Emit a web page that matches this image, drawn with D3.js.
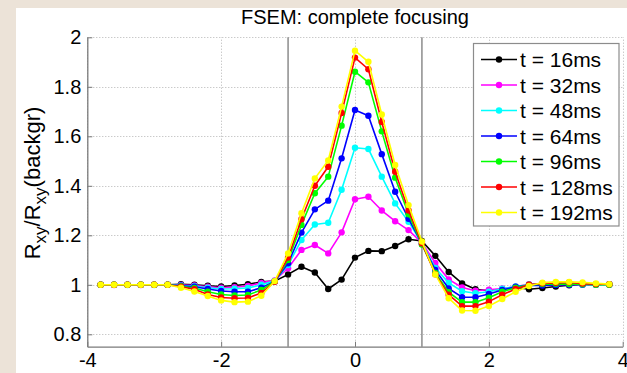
<!DOCTYPE html>
<html>
<head>
<meta charset="utf-8">
<script src="https://cdn.jsdelivr.net/npm/d3@7"></script>
<style>
  html, body { margin: 0; padding: 0; background: #ece3d8; }
  svg { display: block; font-family: "Liberation Sans", Arial, Helvetica, sans-serif; }
</style>
</head>
<body>
<svg id="chart" width="627" height="373"></svg>
<script>
// Probe position (x) at which every curve is sampled
const positions = [-3.8, -3.6, -3.4, -3.2, -3.0, -2.8, -2.6, -2.4, -2.2, -2.0,
                   -1.8, -1.6, -1.4, -1.2, -1.0, -0.8, -0.6, -0.4, -0.2, 0.0,
                    0.2,  0.4,  0.6,  0.8,  1.0,  1.2,  1.4,  1.6,  1.8,  2.0,
                    2.2,  2.4,  2.6,  2.8,  3.0,  3.2,  3.4,  3.6,  3.8];

// Normalised Hall resistance R_xy / R_xy(backgr) for each time step
const t16ms = [1.000, 1.000, 1.000, 1.000, 1.000, 1.000, 1.002, 1.000, 0.996, 0.993,
               0.997, 1.002, 1.012, 1.015, 1.042, 1.073, 1.050, 0.983, 1.021, 1.110,
               1.137, 1.136, 1.157, 1.184, 1.177, 1.117, 1.052, 1.006, 0.982, 0.976,
               0.982, 0.990, 0.982, 0.987, 0.993, 0.998, 1.001, 1.001, 1.002];
const t32ms = [1.000, 0.999, 1.000, 0.999, 1.000, 1.000, 0.999, 0.997, 0.992, 0.988,
               0.990, 0.995, 1.008, 1.018, 1.067, 1.141, 1.161, 1.127, 1.212, 1.346,
               1.356, 1.300, 1.257, 1.221, 1.170, 1.088, 1.022, 0.989, 0.976, 0.980,
               0.985, 0.992, 1.003, 1.003, 1.000, 1.002, 1.000, 1.000, 1.000];
const t48ms = [1.000, 1.000, 0.999, 1.000, 0.999, 1.000, 0.997, 0.994, 0.988, 0.983,
               0.984, 0.987, 1.000, 1.016, 1.080, 1.181, 1.244, 1.251, 1.384, 1.554,
               1.549, 1.437, 1.329, 1.255, 1.168, 1.068, 1.008, 0.974, 0.966, 0.972,
               0.984, 0.993, 1.000, 1.003, 1.002, 1.004, 1.000, 1.000, 1.000];
const t64ms = [1.000, 1.000, 1.000, 1.000, 1.000, 1.000, 0.996, 0.992, 0.983, 0.975,
               0.972, 0.972, 0.988, 1.014, 1.087, 1.211, 1.305, 1.340, 1.511, 1.706,
               1.683, 1.528, 1.376, 1.267, 1.165, 1.060, 0.985, 0.950, 0.950, 0.963,
               0.979, 0.992, 0.998, 0.997, 0.999, 1.000, 1.001, 1.001, 1.002];
const t96ms = [1.000, 1.000, 1.000, 1.000, 1.000, 1.000, 0.994, 0.987, 0.972, 0.961,
               0.957, 0.959, 0.979, 1.014, 1.100, 1.242, 1.370, 1.437, 1.643, 1.861,
               1.818, 1.620, 1.433, 1.285, 1.163, 1.048, 0.970, 0.930, 0.930, 0.948,
               0.972, 0.988, 1.000, 1.003, 1.004, 1.003, 1.002, 1.000, 1.000];
const t128ms = [1.000, 1.000, 1.000, 1.000, 1.000, 1.000, 0.992, 0.982, 0.961, 0.949,
                0.946, 0.947, 0.967, 1.012, 1.110, 1.265, 1.400, 1.477, 1.694, 1.918,
                1.871, 1.658, 1.457, 1.300, 1.168, 1.043, 0.960, 0.914, 0.914, 0.932,
                0.960, 0.983, 1.000, 1.006, 1.008, 1.010, 1.005, 1.003, 1.002];
const t192ms = [1.000, 1.000, 1.000, 1.000, 1.000, 1.000, 0.988, 0.973, 0.955, 0.937,
                0.930, 0.932, 0.956, 1.015, 1.127, 1.289, 1.430, 1.502, 1.720, 1.946,
                1.901, 1.688, 1.484, 1.322, 1.175, 1.042, 0.946, 0.896, 0.895, 0.914,
                0.943, 0.972, 0.995, 1.009, 1.012, 1.012, 1.010, 1.006, 1.003];

const seriesLabels = ["t = 16ms", "t = 32ms", "t = 48ms", "t = 64ms", "t = 96ms", "t = 128ms", "t = 192ms"];
const seriesValues = [t16ms, t32ms, t48ms, t64ms, t96ms, t128ms, t192ms];
const seriesColors = ["#000000", "#ff00ff", "#00ffff", "#0000ff", "#00ff00", "#ff0000", "#ffff00"];

const xTicks = [-4, -2, 0, 2, 4];
const yTicks = [0.8, 1, 1.2, 1.4, 1.6, 1.8, 2];
const edgeLines = [-1, 1];          // boundaries of the focusing region
const titleText = "FSEM: complete focusing";

const svg = d3.select("#chart");
const W = 627, H = 373;

// page backdrop and white figure sheet
svg.append("rect").attr("width", W).attr("height", H).attr("fill", "#ece3d8");
svg.append("rect").attr("x", 16).attr("y", 8).attr("width", W - 16).attr("height", H - 8).attr("fill", "#ffffff");

const plot = { left: 87.3, right: 622.7, top: 37.3, bottom: 346.7 };
const x = d3.scaleLinear().domain([-4, 4]).range([plot.left, plot.right]);
const y = d3.scaleLinear().domain([0.75, 2]).range([plot.bottom, plot.top]);

// dotted grid
const grid = svg.append("g").attr("stroke", "#b4b4b4").attr("stroke-width", 1)
  .attr("stroke-dasharray", "1,2").attr("fill", "none");
grid.selectAll("line.gy").data(yTicks).join("line").attr("class", "gy")
  .attr("x1", x(-4)).attr("x2", x(4))
  .attr("y1", d => Math.round(y(d)) + 0.5).attr("y2", d => Math.round(y(d)) + 0.5);
grid.selectAll("line.gx").data(xTicks).join("line").attr("class", "gx")
  .attr("x1", d => Math.round(x(d)) + 0.5).attr("x2", d => Math.round(x(d)) + 0.5)
  .attr("y1", y(0.75)).attr("y2", y(2));

// solid markers at x = ±1
svg.append("g").selectAll("line").data(edgeLines).join("line")
  .attr("x1", d => x(d)).attr("x2", d => x(d))
  .attr("y1", y(0.75)).attr("y2", y(2))
  .attr("stroke", "#8c8c8c").attr("stroke-width", 1.5);

// axes with inward ticks
const axisColor = "#7a7a7a";
const xAxis = svg.append("g").attr("transform", `translate(0,${plot.bottom})`)
  .call(d3.axisBottom(x).tickValues(xTicks).tickFormat(d => String(d))
    .tickSize(-5).tickSizeOuter(0).tickPadding(6));
const yAxis = svg.append("g").attr("transform", `translate(${plot.left},0)`)
  .call(d3.axisLeft(y).tickValues(yTicks).tickFormat(d => String(d))
    .tickSize(-5).tickSizeOuter(0).tickPadding(6));
[xAxis, yAxis].forEach(g => {
  g.select(".domain").attr("stroke", axisColor).attr("stroke-width", 1.3);
  g.selectAll(".tick line").attr("stroke", axisColor);
  g.selectAll(".tick text").attr("fill", "#000").attr("font-size", 20)
    .attr("font-family", "'Liberation Sans', Arial, sans-serif");
});

// series curves with dot markers, first series at the bottom
const line = d3.line().x((d, i) => x(positions[i])).y(d => y(d));
seriesValues.forEach((vals, k) => {
  const g = svg.append("g");
  g.append("path").datum(vals).attr("d", line)
    .attr("fill", "none").attr("stroke", seriesColors[k]).attr("stroke-width", 1.6)
    .attr("stroke-linejoin", "round");
  g.selectAll("circle").data(vals).join("circle")
    .attr("cx", (d, i) => x(positions[i])).attr("cy", d => y(d))
    .attr("r", 3.2).attr("fill", seriesColors[k]);
});

// title
svg.append("text").attr("x", 355).attr("y", 24).attr("text-anchor", "middle")
  .attr("font-size", 20).attr("fill", "#000").text(titleText);

// y-axis label with subscripts
const yl = svg.append("text")
  .attr("transform", `translate(40,${(plot.top + plot.bottom) / 2 - 9}) rotate(-90)`)
  .attr("text-anchor", "middle").attr("font-size", 22).attr("fill", "#000");
yl.append("tspan").text("R");
yl.append("tspan").attr("font-size", 17).attr("dy", 6).text("xy");
yl.append("tspan").attr("dy", -6).text("/R");
yl.append("tspan").attr("font-size", 17).attr("dy", 6).text("xy");
yl.append("tspan").attr("dy", -6).text("(backgr)");

// legend
const leg = { x: 473.5, y: 43.5, w: 145.5, h: 182.5, first: 59.5, step: 25.5 };
const lg = svg.append("g");
lg.append("rect").attr("x", leg.x).attr("y", leg.y).attr("width", leg.w).attr("height", leg.h)
  .attr("fill", "#fff").attr("stroke", "#8c8c8c").attr("stroke-width", 1.2);
seriesLabels.forEach((lab, k) => {
  const cy = leg.first + k * leg.step;
  lg.append("line").attr("x1", 481).attr("x2", 517).attr("y1", cy).attr("y2", cy)
    .attr("stroke", seriesColors[k]).attr("stroke-width", 1.6);
  lg.append("circle").attr("cx", 499).attr("cy", cy).attr("r", 3.2).attr("fill", seriesColors[k]);
  lg.append("text").attr("x", 520).attr("y", cy + 7.5).attr("font-size", 21)
    .attr("fill", "#000").text(lab);
});
</script>
</body>
</html>
